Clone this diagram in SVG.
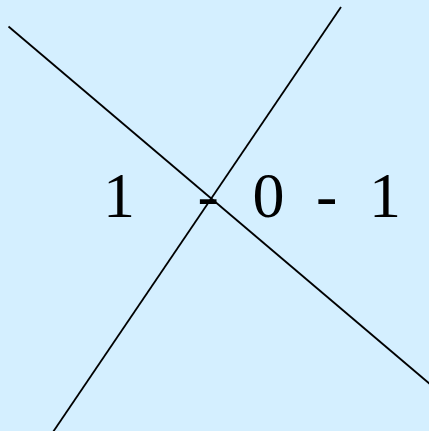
<svg xmlns="http://www.w3.org/2000/svg" width="429" height="431" viewBox="0 0 429 431">
  <style>
    .ln { stroke: #000; stroke-width: 1.8; fill: none; }
    .lbl { font-family: "Liberation Serif", "Times New Roman", serif; font-size: 64px; fill: #000; }
  </style>
  <rect x="0" y="0" width="429" height="431" fill="#d4efff"/>
  <g id="connectors">
    <line class="ln" x1="8.5" y1="26.5" x2="431" y2="385"/>
    <line class="ln" x1="341" y1="7" x2="53" y2="432"/>
  </g>
  <g id="label">
    <text class="lbl" x="103 197.5 252.5 316 369" y="217">1-0-1</text>
  </g>
</svg>
